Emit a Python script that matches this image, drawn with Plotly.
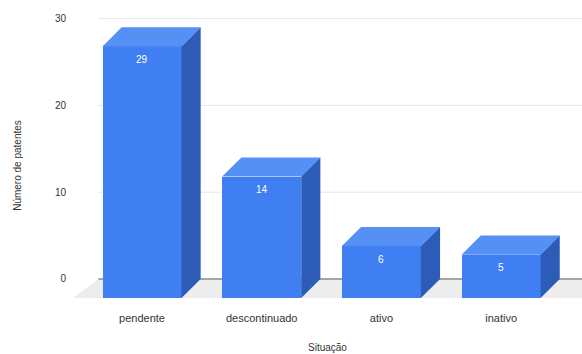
import plotly.graph_objects as go

# Patent counts by status
categories = ["pendente", "descontinuado", "ativo", "inativo"]
counts = [29, 14, 6, 5]
y_ticks = [0, 10, 20, 30]

# Pseudo-3D geometry (axis units)
BAR_W = 0.66      # front face width
DX = 0.16         # depth offset along x
DY = 2.2          # depth offset along y
X_MIN, X_MAX = -0.585, 3.676
Y_MIN, Y_MAX = -3, 31

FRONT = "#3f7ff2"
TOP = "#5590f5"
SIDE = "#2c5bb8"
FONT = "Liberation Sans"

xs = list(range(len(categories)))
fig = go.Figure()

# Front faces: ordinary bars dropped by the depth offset
fig.add_trace(go.Bar(
    x=xs, y=counts, base=[-DY] * len(counts), width=BAR_W,
    marker=dict(color=FRONT, line=dict(width=0)),
    hoverinfo="skip", showlegend=False,
))

# Top and side faces of each bar
for xi, v in zip(xs, counts):
    l, r = xi - BAR_W / 2, xi + BAR_W / 2
    fig.add_trace(go.Scatter(
        x=[l, l + DX, r + DX, r, l],
        y=[v - DY, v, v, v - DY, v - DY],
        fill="toself", fillcolor=TOP, mode="lines", line=dict(width=0),
        hoverinfo="skip", showlegend=False,
    ))
    fig.add_trace(go.Scatter(
        x=[r, r + DX, r + DX, r, r],
        y=[-DY, 0, v, v - DY, -DY],
        fill="toself", fillcolor=SIDE, mode="lines", line=dict(width=0),
        hoverinfo="skip", showlegend=False,
    ))

# Value labels on the front faces
annotations = [
    dict(x=xi, y=v - DY, text=str(v), showarrow=False, yshift=-13,
         font=dict(color="white", size=10, family=FONT))
    for xi, v in zip(xs, counts)
]
annotations.append(dict(
    x=0.5, xref="paper", y=-0.145, yref="paper", yanchor="middle",
    text="Situação", showarrow=False,
    font=dict(size=10, color="#333333", family=FONT),
))
annotations.append(dict(
    x=-0.106, xref="paper", y=0.475, yref="paper",
    xanchor="center", yanchor="middle", textangle=-90,
    text="Número de patentes", showarrow=False,
    font=dict(size=10, color="#333333", family=FONT),
))

# Back wall grid lines, floor and baseline
shapes = []
back_left = X_MIN + 0.01 + DX + 0.05
for t in y_ticks[1:]:
    shapes.append(dict(type="line", layer="below", xref="x", yref="y",
                       x0=back_left, x1=X_MAX, y0=t, y1=t,
                       line=dict(color="#e6e6e6", width=1)))
floor_left = X_MIN + 0.01
shapes.append(dict(
    type="path", layer="below", xref="x", yref="y",
    path=(f"M {floor_left},{-DY} L {back_left},0 L {X_MAX},0 "
          f"L {X_MAX},{-DY} Z"),
    fillcolor="#ededed", line=dict(width=0),
))
shapes.append(dict(type="line", layer="below", xref="x", yref="y",
                   x0=back_left, x1=X_MAX, y0=0, y1=0,
                   line=dict(color="#555555", width=1)))

fig.update_layout(
    width=582, height=354,
    margin=dict(l=72, r=0, t=10, b=49),
    paper_bgcolor="white", plot_bgcolor="white",
    font=dict(family=FONT, color="#444444", size=10),
    bargap=0, barmode="overlay",
    shapes=shapes, annotations=annotations,
    xaxis=dict(range=[X_MIN, X_MAX], tickvals=xs, ticktext=categories,
               showgrid=False, zeroline=False, showline=False, ticks="",
               ticklabelstandoff=5,
               tickfont=dict(size=11, color="#333333")),
    yaxis=dict(range=[Y_MIN, Y_MAX], tickvals=y_ticks, showgrid=False,
               zeroline=False, showline=False, ticks="",
               ticklabelstandoff=5,
               tickfont=dict(size=10, color="#333333")),
)

fig.write_html("out.html")
